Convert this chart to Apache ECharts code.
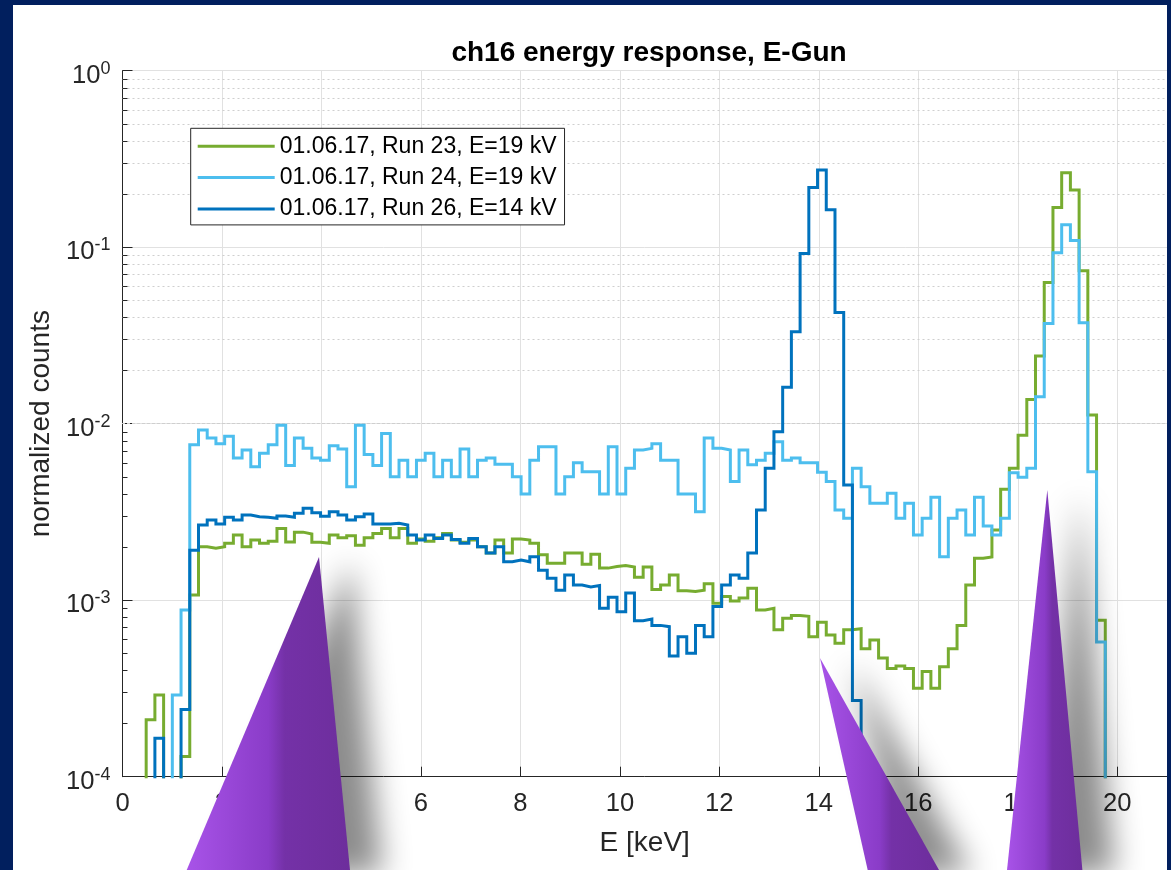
<!DOCTYPE html>
<html>
<head>
<meta charset="utf-8">
<title>ch16 energy response, E-Gun</title>
<script src="https://cdn.jsdelivr.net/npm/echarts@6.0.0/dist/echarts.min.js"></script>
<style>
    html, body { margin: 0; padding: 0; background: #011f5e; }
    #chart { position: absolute; left: 13px; top: 5px; width: 1154px; height: 865px; background: #ffffff; }
</style>
</head>
<body>
<div id="chart"></div>
<script>
// histogram binning, keV (left edge of first bin, bin width)
var binStart = 0.476;
var binWidth = 0.1753;

// normalized counts per bin (0 = empty bin)
var run23 = [
    2.1e-4, 2.9e-4, 0, 0, 1.3e-4, 1.07e-3, 2.01e-3, 1.97e-3, 2.01e-3, 2.10e-3,
    2.34e-3, 2.01e-3, 2.19e-3, 2.10e-3, 2.16e-3, 2.55e-3, 2.14e-3, 2.43e-3, 2.37e-3, 2.13e-3,
    2.10e-3, 2.34e-3, 2.26e-3, 2.32e-3, 2.05e-3, 2.26e-3, 2.39e-3, 2.55e-3, 2.26e-3, 2.55e-3,
    2.10e-3, 2.22e-3, 2.16e-3, 2.26e-3, 2.39e-3, 2.19e-3, 2.13e-3, 2.19e-3, 2.01e-3, 1.85e-3,
    2.19e-3, 1.85e-3, 2.22e-3, 2.19e-3, 2.10e-3, 1.81e-3, 1.62e-3, 1.62e-3, 1.85e-3, 1.85e-3,
    1.60e-3, 1.82e-3, 1.52e-3, 1.55e-3, 1.57e-3, 1.54e-3, 1.35e-3, 1.54e-3, 1.15e-3, 1.22e-3,
    1.39e-3, 1.13e-3, 1.12e-3, 1.14e-3, 1.24e-3, 9.6e-4, 1.05e-3, 9.9e-4, 1.03e-3, 1.17e-3,
    8.8e-4, 9.0e-4, 6.8e-4, 7.9e-4, 8.2e-4, 8.1e-4, 6.2e-4, 7.5e-4, 6.35e-4, 5.7e-4,
    6.8e-4, 6.9e-4, 5.3e-4, 5.95e-4, 4.7e-4, 4.1e-4, 4.24e-4, 4.1e-4, 3.17e-4, 3.94e-4,
    3.17e-4, 4.2e-4, 5.3e-4, 7.2e-4, 1.22e-3, 1.73e-3, 1.76e-3, 2.5e-3, 4.25e-3, 5.59e-3,
    8.6e-3, 1.37e-2, 2.42e-2, 6.3e-2, 0.168, 0.264, 0.211, 7.36e-2, 1.12e-2, 7.7e-4
];
var run24 = [
    0, 0, 0, 2.9e-4, 8.8e-4, 7.6e-3, 9.2e-3, 8.3e-3, 7.7e-3, 8.5e-3,
    6.4e-3, 7.1e-3, 5.7e-3, 6.8e-3, 7.6e-3, 9.8e-3, 5.8e-3, 8.3e-3, 7.25e-3, 6.4e-3,
    6.2e-3, 7.5e-3, 7.2e-3, 4.4e-3, 9.8e-3, 6.7e-3, 5.8e-3, 8.8e-3, 5.0e-3, 6.2e-3,
    5.0e-3, 6.2e-3, 6.8e-3, 5.0e-3, 6.2e-3, 5.0e-3, 7.2e-3, 5.0e-3, 6.2e-3, 6.4e-3,
    5.9e-3, 5.9e-3, 5.0e-3, 4.0e-3, 6.2e-3, 7.4e-3, 7.4e-3, 4.0e-3, 5.0e-3, 6.0e-3,
    5.35e-3, 5.35e-3, 4.0e-3, 7.4e-3, 4.0e-3, 5.6e-3, 7.1e-3, 7.25e-3, 7.7e-3, 6.2e-3,
    6.2e-3, 4.0e-3, 4.0e-3, 3.17e-3, 8.3e-3, 7.25e-3, 7.1e-3, 4.7e-3, 7.1e-3, 5.85e-3,
    6.2e-3, 6.8e-3, 7.9e-3, 6.2e-3, 6.4e-3, 6.0e-3, 6.0e-3, 5.3e-3, 4.7e-3, 3.24e-3,
    2.91e-3, 5.6e-3, 4.4e-3, 3.54e-3, 3.54e-3, 4.03e-3, 2.91e-3, 3.54e-3, 2.34e-3, 2.91e-3,
    3.83e-3, 1.76e-3, 2.91e-3, 3.24e-3, 2.34e-3, 3.83e-3, 2.63e-3, 2.34e-3, 2.91e-3, 5.28e-3,
    4.97e-3, 5.59e-3, 1.42e-2, 3.7e-2, 9.3e-2, 0.134, 0.109, 3.73e-2, 5.35e-3, 5.8e-4
];
var run26 = [
    0, 1.65e-4, 0, 0, 2.4e-4, 1.92e-3, 2.67e-3, 2.85e-3, 2.70e-3, 2.95e-3,
    2.85e-3, 3.04e-3, 2.97e-3, 2.95e-3, 2.91e-3, 3.0e-3, 2.95e-3, 3.11e-3, 3.32e-3, 3.13e-3,
    2.99e-3, 3.17e-3, 3.04e-3, 2.85e-3, 2.97e-3, 3.08e-3, 2.70e-3, 2.70e-3, 2.73e-3, 2.67e-3,
    2.34e-3, 2.19e-3, 2.34e-3, 2.24e-3, 2.34e-3, 2.21e-3, 2.10e-3, 2.24e-3, 2.01e-3, 1.85e-3,
    2.01e-3, 1.65e-3, 1.69e-3, 1.65e-3, 1.76e-3, 1.48e-3, 1.33e-3, 1.14e-3, 1.39e-3, 1.22e-3,
    1.19e-3, 1.21e-3, 9.0e-4, 1.04e-3, 8.6e-4, 1.10e-3, 7.66e-4, 7.83e-4, 7.2e-4, 7.08e-4,
    4.83e-4, 6.2e-4, 5.0e-4, 7.2e-4, 6.2e-4, 9.2e-4, 1.22e-3, 1.39e-3, 1.33e-3, 1.85e-3,
    3.24e-3, 5.59e-3, 9.0e-3, 1.61e-2, 3.32e-2, 9.2e-2, 0.218, 0.274, 0.163, 4.26e-2,
    4.5e-3, 2.7e-4
];

var seriesNames = ['01.06.17, Run 23, E=19 kV', '01.06.17, Run 24, E=19 kV', '01.06.17, Run 26, E=14 kV'];
var seriesColors = ['#77ac30', '#4dbeee', '#0072bd'];

// log axis minor ticks: 2..9 x each decade
var decades = [-4, -3, -2, -1];
var minorSteps = [2, 3, 4, 5, 6, 7, 8, 9];

var FONT = 'Liberation Sans, Arial, Helvetica, sans-serif';
var TXT = '#262626';

// empty bins drop below the axis like zero counts on a log plot
var FLOOR = 1e-7;
function stairs(counts) {
    var pts = [[binStart, FLOOR]];
    for (var k = 0; k < counts.length; k++) {
        pts.push([binStart + k * binWidth, counts[k] > 0 ? counts[k] : FLOOR]);
    }
    var n = counts.length;
    var end = binStart + n * binWidth;
    pts.push([end, counts[n - 1] > 0 ? counts[n - 1] : FLOOR]);
    pts.push([end, FLOOR]);
    return pts;
}

var minorVals = [];
decades.forEach(function (d) {
    minorSteps.forEach(function (m) { minorVals.push(m * Math.pow(10, d)); });
});

var runs = [run23, run24, run26];
var series = runs.map(function (r, i) {
    return {
        name: seriesNames[i],
        type: 'line',
        step: 'end',
        data: stairs(r),
        showSymbol: false,
        symbol: 'none',
        color: seriesColors[i],
        lineStyle: { width: 3, color: seriesColors[i], join: 'miter' },
        z: 2,
        silent: true
    };
});

// dotted minor grid
series.push({
    name: 'minor grid', type: 'line', data: [], silent: true,
    markLine: {
        silent: true, z: 1, symbol: ['none', 'none'], label: { show: false },
        lineStyle: { color: '#cfcfcf', width: 1, type: [2, 3] },
        data: minorVals.map(function (v) { return { yAxis: v }; })
    }
});
// minor ticks on the y axis
series.push({
    name: 'minor ticks', type: 'line', data: [], silent: true,
    markLine: {
        silent: true, z: 4, symbol: ['none', 'none'], label: { show: false },
        lineStyle: { color: TXT, width: 1, type: 'solid' },
        data: minorVals.map(function (v) { return [{ coord: [0, v] }, { coord: [0.1, v] }]; })
    }
});

// purple pointer triangles drawn over the figure
function triangle(pts) {
    return {
        type: 'polygon', z: 100, silent: true,
        shape: { points: pts },
        style: {
            fill: new echarts.graphic.LinearGradient(0, 0, 1, 0, [
                { offset: 0, color: '#a853e8' },
                { offset: 0.5, color: '#8a3cc8' },
                { offset: 0.6, color: '#7431a7' },
                { offset: 1, color: '#6d2e9c' }
            ]),
            shadowBlur: 30, shadowOffsetX: 32, shadowOffsetY: 4,
            shadowColor: 'rgba(0,0,0,0.45)'
        }
    };
}

var chart = echarts.init(document.getElementById('chart'));
chart.setOption({
    animation: false,
    title: {
        text: 'ch16 energy response, E-Gun',
        left: 631, top: 29, textAlign: 'center',
        textStyle: { fontFamily: FONT, fontSize: 28, fontWeight: 'bold', color: '#000' }
    },
    legend: {
        data: seriesNames,
        orient: 'vertical',
        left: 177.7, top: 123.3,
        icon: 'rect', itemWidth: 77, itemHeight: 3, itemGap: 5.3,
        padding: [5, 8, 3, 7],
        backgroundColor: '#ffffff', borderColor: TXT, borderWidth: 1, borderRadius: 0,
        selectedMode: false,
        textStyle: { fontFamily: FONT, fontSize: 23, color: '#000', lineHeight: 26 }
    },
    grid: { left: 109.5, top: 65.7, width: 1046, height: 706, containLabel: false },
    xAxis: {
        type: 'value', min: 0, max: 21, interval: 2,
        name: 'E [keV]', nameLocation: 'middle', nameGap: 53,
        nameTextStyle: { fontFamily: FONT, fontSize: 28, color: TXT },
        axisLine: { show: true, lineStyle: { color: TXT, width: 1 } },
        axisTick: { show: true, inside: true, length: 10, lineStyle: { color: TXT } },
        axisLabel: { margin: 14, fontFamily: FONT, fontSize: 25.6, color: TXT, showMaxLabel: false },
        splitLine: { show: true, lineStyle: { color: '#e1e1e1', width: 1 } }
    },
    yAxis: {
        type: 'log', logBase: 10, min: 1e-4, max: 1,
        name: 'normalized counts', nameLocation: 'middle', nameGap: 66,
        nameTextStyle: { fontFamily: FONT, fontSize: 28, color: TXT },
        axisLine: { show: true, lineStyle: { color: TXT, width: 1 } },
        axisTick: { show: true, inside: true, length: 10, lineStyle: { color: TXT } },
        axisLabel: {
            margin: 12,
            padding: [10, 0, 0, 0],
            formatter: function (v) {
                return '{b|10}{s|' + Math.round(Math.log10(v)) + '}';
            },
            rich: {
                b: { fontFamily: FONT, fontSize: 25.6, color: TXT, lineHeight: 32 },
                s: { fontFamily: FONT, fontSize: 18, color: TXT, lineHeight: 18, verticalAlign: 'top' }
            }
        },
        splitLine: { show: true, lineStyle: { color: '#e1e1e1', width: 1 } }
    },
    series: series,
    graphic: [
        triangle([[306, 552], [173.7, 865], [337, 865]]),
        triangle([[807, 653], [854.7, 865], [926, 865]]),
        triangle([[1034.3, 485], [994, 865], [1069.4, 865]])
    ]
});
</script>
</body>
</html>
